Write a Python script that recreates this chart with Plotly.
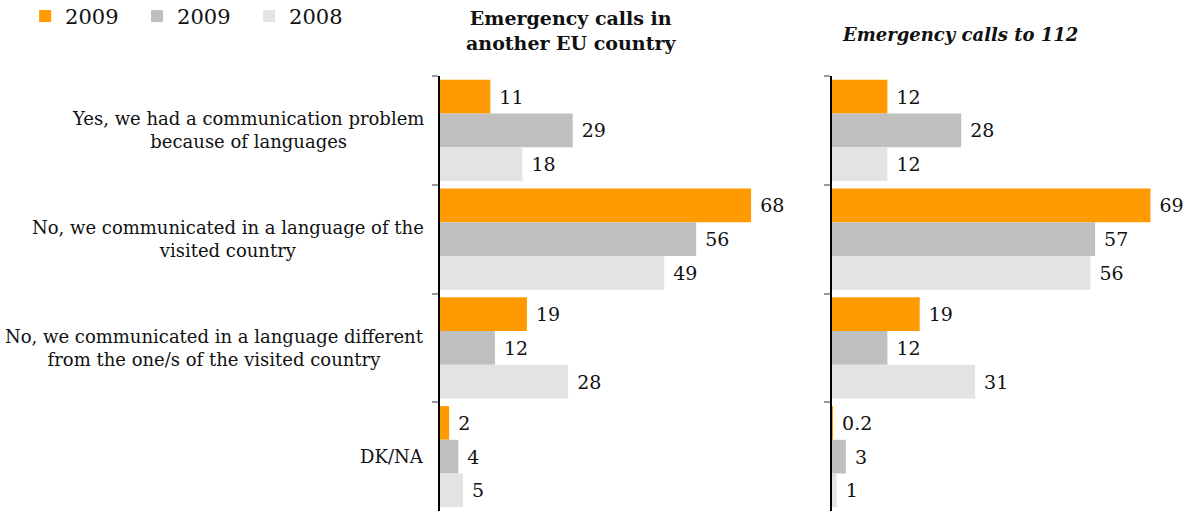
import plotly.graph_objects as go

categories = [
    "Yes, we had a communication problem<br>because of languages",
    "No, we communicated in a language of the<br>visited country",
    "No, we communicated in a language different<br>from the one/s of the visited country",
    "DK/NA",
]
series_names = ["2009", "2009", "2008"]
colors = ["#FF9A00", "#BFBFBF", "#E3E3E3"]

eu_2009a = [11, 68, 19, 2]
eu_2009b = [29, 56, 12, 4]
eu_2008 = [18, 49, 28, 5]

c112_2009a = [12, 69, 19, 0.2]
c112_2009b = [28, 57, 12, 3]
c112_2008 = [12, 56, 31, 1]

panel_titles = ["<b>Emergency calls in<br>another EU country</b>", "<b><i>Emergency calls to 112</i></b>"]

FONT = "DejaVu Serif"
W, H = 1196, 513

fig = go.Figure()
left = [eu_2009a, eu_2009b, eu_2008]
right = [c112_2009a, c112_2009b, c112_2008]
for i, (name, col) in enumerate(zip(series_names, colors)):
    fig.add_trace(go.Bar(
        y=categories, x=left[i], orientation="h", name=name,
        marker=dict(color=col, line=dict(width=0)),
        text=[f" {v:g}" for v in left[i]], textposition="outside",
        textfont=dict(family=FONT, size=19, color="#111"),
        cliponaxis=False, xaxis="x", yaxis="y", legendgroup=str(i),
    ))
for i, (name, col) in enumerate(zip(series_names, colors)):
    fig.add_trace(go.Bar(
        y=categories, x=right[i], orientation="h", name=name,
        marker=dict(color=col, line=dict(width=0)),
        text=[f" {v:g}" for v in right[i]], textposition="outside",
        textfont=dict(family=FONT, size=19, color="#111"),
        cliponaxis=False, xaxis="x2", yaxis="y2", showlegend=False, legendgroup=str(i),
    ))

ydom = [2 / H, 1 - 76 / H]
yax = dict(
    autorange="reversed", type="category", domain=ydom,
    showticklabels=False, showline=True, linecolor="black", linewidth=1.5,
    ticks="outside", tickson="boundaries", ticklen=6, tickcolor="#999", tickwidth=1.5,
    showgrid=False, zeroline=False, automargin=False,
)
fig.update_layout(
    width=W, height=H,
    margin=dict(l=0, r=0, t=0, b=0, autoexpand=False),
    paper_bgcolor="white", plot_bgcolor="white",
    barmode="group", bargap=0.07, bargroupgap=0,
    font=dict(family=FONT, color="#111"),
    showlegend=True,
    legend=dict(orientation="h", x=0.021, y=1.008, xanchor="left", yanchor="top",
                font=dict(family=FONT, size=21, color="#111"),
                entrywidth=67, entrywidthmode="pixels", itemwidth=30,
                traceorder="normal", bgcolor="rgba(0,0,0,0)"),
    xaxis=dict(domain=[440 / W, 806 / W], range=[0, 80], visible=False),
    xaxis2=dict(domain=[832 / W, 1192 / W], range=[0, 78], visible=False),
    yaxis=dict(anchor="x", **yax),
    yaxis2=dict(anchor="x2", **yax),
)

annotations = []
for c in categories:
    annotations.append(dict(
        x=426 / W, xref="paper", y=c, yref="y", xanchor="right", yanchor="middle",
        text=c, align="center", showarrow=False,
        font=dict(family=FONT, size=18, color="#111"),
    ))
annotations.append(dict(x=571 / W, y=1 - 30 / H, xref="paper", yref="paper",
                        text=panel_titles[0], showarrow=False, align="center",
                        xanchor="center", yanchor="middle",
                        font=dict(family=FONT, size=19, color="#111")))
annotations.append(dict(x=840 / W, y=1 - 35 / H, xref="paper", yref="paper",
                        text=panel_titles[1], showarrow=False, align="left",
                        xanchor="left", yanchor="middle",
                        font=dict(family=FONT, size=18, color="#111")))
fig.update_layout(annotations=annotations)

fig.write_html("out.html", config={"displayModeBar": False},
               post_script="document.body.style.margin='0';document.body.style.overflow='hidden';")
